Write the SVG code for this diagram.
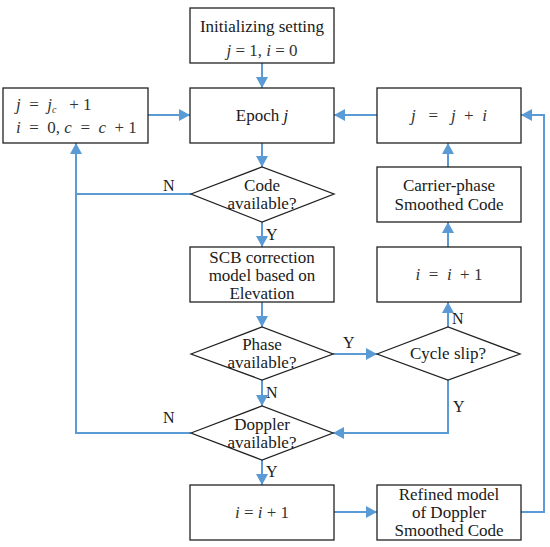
<svg xmlns="http://www.w3.org/2000/svg" width="550" height="547" viewBox="0 0 550 547">
<style>
.box{fill:#fff;stroke:#222;stroke-width:1.3}
.t{font-family:"Liberation Serif","Times New Roman",serif;font-size:17px;fill:#1a1a1a;text-anchor:middle}
.m{font-family:"Liberation Serif","Times New Roman",serif;font-size:17px;fill:#333}
.i{font-style:italic}
.lbl{font-family:"Liberation Serif","Times New Roman",serif;font-size:16px;fill:#1a1a1a}
.c{fill:none;stroke:#5B9BD5;stroke-width:2}
</style>
<defs>
<marker id="ah" markerUnits="userSpaceOnUse" markerWidth="12" markerHeight="12" refX="11" refY="6" orient="auto">
<path d="M0,0 L11,6 L0,12 z" fill="#5B9BD5"/>
</marker>
</defs>
<rect width="550" height="547" fill="#fff"/>
<g id="connectors">
<line class="c" x1="262" y1="63" x2="262" y2="88" marker-end="url(#ah)"/>
<line class="c" x1="262" y1="143" x2="262" y2="167" marker-end="url(#ah)"/>
<line class="c" x1="262" y1="222" x2="262" y2="247" marker-end="url(#ah)"/>
<line class="c" x1="262" y1="302" x2="262" y2="327" marker-end="url(#ah)"/>
<line class="c" x1="262" y1="380" x2="262" y2="406" marker-end="url(#ah)"/>
<line class="c" x1="262" y1="460" x2="262" y2="485" marker-end="url(#ah)"/>
<line class="c" x1="148" y1="115" x2="190" y2="115" marker-end="url(#ah)"/>
<line class="c" x1="377" y1="115" x2="334" y2="115" marker-end="url(#ah)"/>
<polyline class="c" points="191,194 76,194"/>
<polyline class="c" points="191,433 76,433 76,143" marker-end="url(#ah)"/>
<line class="c" x1="333" y1="354" x2="377" y2="354" marker-end="url(#ah)"/>
<line class="c" x1="448" y1="327" x2="448" y2="302" marker-end="url(#ah)"/>
<line class="c" x1="448" y1="247" x2="448" y2="222" marker-end="url(#ah)"/>
<line class="c" x1="448" y1="167" x2="448" y2="143" marker-end="url(#ah)"/>
<polyline class="c" points="448,380 448,433 333,433" marker-end="url(#ah)"/>
<line class="c" x1="334" y1="512" x2="377" y2="512" marker-end="url(#ah)"/>
<polyline class="c" points="521,512 544,512 544,115 521,115" marker-end="url(#ah)"/>
<text class="lbl" x="163" y="191">N</text>
<text class="lbl" x="266" y="240">Y</text>
<text class="lbl" x="343" y="348">Y</text>
<text class="lbl" x="452" y="324">N</text>
<text class="lbl" x="266" y="398">N</text>
<text class="lbl" x="453" y="412">Y</text>
<text class="lbl" x="163" y="423">N</text>
<text class="lbl" x="266" y="477">Y</text>
</g>
<g id="init">
<rect class="box" x="190" y="8" width="144" height="55"/>
<text class="t" x="262" y="32">Initializing setting</text>
<text class="m" x="262" y="56" text-anchor="middle" font-size="14"><tspan class="i">j</tspan> = 1, <tspan class="i">i</tspan> = 0</text>
</g>
<g id="epoch">
<rect class="box" x="190" y="88" width="144" height="55"/>
<text class="t" x="262" y="121">Epoch <tspan class="i">j</tspan></text>
</g>
<g id="reset">
<rect class="box" x="3" y="88" width="145" height="55"/>
<text class="m" x="16" y="110" xml:space="preserve"><tspan class="i">j</tspan>  =  <tspan class="i">j</tspan><tspan class="i" font-size="10" dy="3">c</tspan><tspan dy="-3">   + 1</tspan></text>
<text class="m" x="16" y="133" xml:space="preserve"><tspan class="i">i</tspan>  =  0, <tspan class="i">c</tspan>  =  <tspan class="i">c</tspan>  + 1</text>
</g>
<g id="update">
<rect class="box" x="377" y="88" width="144" height="55"/>
<text class="m" x="449" y="121" text-anchor="middle" xml:space="preserve"><tspan class="i">j</tspan>   =   <tspan class="i">j</tspan>  +  <tspan class="i">i</tspan></text>
</g>
<g id="code">
<polygon class="box" points="191,194 262,167 334,194 262,222"/>
<text class="t" x="262" y="191">Code</text>
<text class="t" x="262" y="209">available?</text>
</g>
<g id="scb">
<rect class="box" x="190" y="247" width="144" height="55"/>
<text class="t" x="262" y="263">SCB correction</text>
<text class="t" x="262" y="281">model based on</text>
<text class="t" x="262" y="299">Elevation</text>
</g>
<g id="carrier">
<rect class="box" x="377" y="167" width="144" height="55"/>
<text class="t" x="449" y="191">Carrier-phase</text>
<text class="t" x="449" y="210">Smoothed Code</text>
</g>
<g id="inc1">
<rect class="box" x="377" y="247" width="144" height="55"/>
<text class="m" x="449" y="280" text-anchor="middle" xml:space="preserve"><tspan class="i">i</tspan>  =  <tspan class="i">i</tspan>  + 1</text>
</g>
<g id="phase">
<polygon class="box" points="191,354 262,327 333,354 262,380"/>
<text class="t" x="262" y="350">Phase</text>
<text class="t" x="262" y="368">available?</text>
</g>
<g id="cycle">
<polygon class="box" points="377,354 448,327 520,354 448,380"/>
<text class="t" x="448" y="359">Cycle slip?</text>
</g>
<g id="doppler">
<polygon class="box" points="191,433 262,406 333,433 262,460"/>
<text class="t" x="262" y="430">Doppler</text>
<text class="t" x="262" y="448">available?</text>
</g>
<g id="inc2">
<rect class="box" x="190" y="485" width="144" height="55"/>
<text class="m" x="262" y="518" text-anchor="middle" font-size="18" xml:space="preserve"><tspan class="i">i</tspan> = <tspan class="i">i</tspan> + 1</text>
</g>
<g id="refined">
<rect class="box" x="377" y="485" width="144" height="55"/>
<text class="t" x="449" y="500">Refined model</text>
<text class="t" x="449" y="518">of Doppler</text>
<text class="t" x="449" y="536">Smoothed Code</text>
</g>
</svg>
